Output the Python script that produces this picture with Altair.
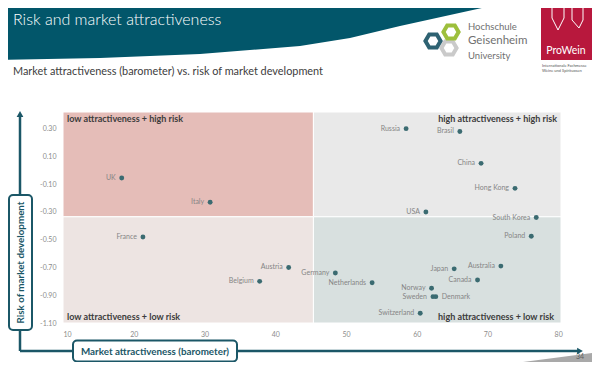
import altair as alt
import pandas as pd

# ---------------- data ----------------
countries = ["Russia", "Brasil", "China", "Hong Kong", "USA", "South Korea", "Poland",
             "Australia", "Japan", "Canada", "Norway", "Sweden", "Denmark", "Switzerland",
             "Germany", "Netherlands", "Austria", "Belgium", "France", "UK", "Italy"]
attractiveness = [58.5, 66.1, 69.1, 73.9, 61.3, 76.9, 76.2,
                  71.9, 65.3, 68.6, 62.1, 62.3, 62.7, 60.5,
                  48.5, 53.7, 41.9, 37.8, 21.3, 18.3, 30.8]
risk = [0.30, 0.28, 0.05, -0.13, -0.30, -0.34, -0.475,
        -0.69, -0.71, -0.79, -0.85, -0.91, -0.91, -1.03,
        -0.74, -0.81, -0.70, -0.80, -0.48, -0.055, -0.23]
label_side = ["left"] * 12 + ["right"] + ["left"] * 8

x_ticks = [10, 20, 30, 40, 50, 60, 70, 80]
y_ticks = [0.3, 0.1, -0.1, -0.3, -0.5, -0.7, -0.9, -1.1]

quad_x1 = [10, 45.4, 10, 45.4]
quad_x2 = [45.4, 80.4, 45.4, 80.4]
quad_y1 = [-0.335, -0.335, -1.1, -1.1]
quad_y2 = [0.42, 0.42, -0.335, -0.335]
quad_colors = ["#e5bdb8", "#e9e9e9", "#ede4e2", "#d8e0df"]

title = "Risk and market attractiveness"
subtitle = "Market attractiveness (barometer) vs. risk of market development"
y_title = "Risk of market development"
x_title = "Market attractiveness (barometer)"
quad_labels = ["low attractiveness + high risk", "high attractiveness + high risk",
               "low attractiveness + low risk", "high attractiveness + low risk"]

banner_x = [0, 100, 200, 300, 350, 400, 450, 500, 520]
banner_y = [60, 58, 54, 46, 38, 26, 15, 4, 0]
wedge_x = [423, 600]
wedge_y = [375, 352]

FONT = "Lato"
TEAL = "#1b5767"
PT = "#3b6b71"

# plot origin in page pixels
OX, OY = 63, 112
def vx(X): return alt.value(X - OX)
def vy(Y): return alt.value(Y - OY)

XS = alt.Scale(domain=[10, 80.4], nice=False, zero=False)
YS = alt.Scale(domain=[-1.1, 0.42], nice=False, zero=False)
PXS = alt.Scale(domain=[0, 600], range=[-OX, 600 - OX])
PYS = alt.Scale(domain=[0, 375], range=[-OY, 375 - OY])

main = pd.DataFrame({"country": countries, "attractiveness": attractiveness,
                     "risk": risk, "side": label_side})
quads = pd.DataFrame({"x1": quad_x1, "x2": quad_x2, "y1": quad_y1, "y2": quad_y2,
                      "c": quad_colors})

xaxis = alt.Axis(values=x_ticks, title=None, domain=False, ticks=False, grid=False,
                 labelFontSize=7, labelColor="#8c8c8c", labelPadding=7, labelFont=FONT,
                 labelOverlap=False)
yaxis = alt.Axis(values=y_ticks, title=None, domain=False, ticks=False, grid=False,
                 labelFontSize=7, labelColor="#8c8c8c", labelPadding=7, labelFont=FONT,
                 labelOverlap=False,
                 labelExpr="replace(format(datum.value, '.2f'), '\u2212', '-')")

quad_layer = alt.Chart(quads).mark_rect(stroke="white", strokeWidth=1).encode(
    x=alt.X("x1:Q", scale=XS, axis=xaxis),
    x2="x2:Q",
    y=alt.Y("y1:Q", scale=YS, axis=yaxis),
    y2="y2:Q",
    fill=alt.Fill("c:N", scale=None),
)

points = alt.Chart(main).mark_circle(size=24, opacity=1, color=PT).encode(
    x=alt.X("attractiveness:Q", scale=XS, axis=None),
    y=alt.Y("risk:Q", scale=YS, axis=None),
)

lab_left = alt.Chart(main).transform_filter("datum.side == 'left'").mark_text(
    align="right", baseline="middle", dx=-6, fontSize=7, color="#858585", font=FONT
).encode(
    x=alt.X("attractiveness:Q", scale=XS, axis=None),
    y=alt.Y("risk:Q", scale=YS, axis=None),
    text="country:N",
)
lab_right = alt.Chart(main).transform_filter("datum.side == 'right'").mark_text(
    align="left", baseline="middle", dx=6, fontSize=7, color="#858585", font=FONT
).encode(
    x=alt.X("attractiveness:Q", scale=XS, axis=None),
    y=alt.Y("risk:Q", scale=YS, axis=None),
    text="country:N",
)

one = pd.DataFrame({"a": [0]})

def txt(s, X, Y, size, color, align="left", weight="normal", angle=0, baseline="middle"):
    kw = dict(align=align, baseline=baseline, fontSize=size, color=color, font=FONT,
              fontWeight=weight)
    if angle:
        kw["angle"] = angle
    return alt.Chart(one).mark_text(**kw).encode(x=vx(X), y=vy(Y), text=alt.value(s))

q_tl = txt(quad_labels[0], 67, 119, 9, "#3c3c3c", weight="bold")
q_tr = txt(quad_labels[1], 557, 119, 9, "#3c3c3c", align="right", weight="bold")
q_bl = txt(quad_labels[2], 67, 317, 9, "#3c3c3c", weight="bold")
q_br = txt(quad_labels[3], 554, 317, 9, "#3c3c3c", align="right", weight="bold")

# banner
banner_df = pd.DataFrame({"x": banner_x, "y": banner_y, "top": [0] * len(banner_x)})
banner = alt.Chart(banner_df).mark_area(color="#02566a", opacity=1).encode(
    x=alt.X("x:Q", scale=PXS, axis=None),
    y=alt.Y("y:Q", scale=PYS, axis=None),
    y2="top:Q",
)
wedge_df = pd.DataFrame({"x": wedge_x, "y": wedge_y, "bot": [375, 375]})
wedge = alt.Chart(wedge_df).mark_area(color="#a9a9a9", opacity=1).encode(
    x=alt.X("x:Q", scale=PXS, axis=None),
    y=alt.Y("y:Q", scale=PYS, axis=None),
    y2="bot:Q",
)

t_title = txt(title, 13, 20, 16, "white", weight=300)
t_sub = txt(subtitle, 13, 72, 10.9, "#404040")
t_page = txt("34", 580, 357, 7, "#5f5f5f", align="center")

# axis decorations
LINE_Y = 351
def rule(x1, y1, x2, y2):
    return alt.Chart(one).mark_rule(color=TEAL, strokeWidth=2.5).encode(
        x=vx(x1), y=vy(y1), x2=vx(x2), y2=vy(y2))

r1 = rule(20, 116, 20, 195)
r2 = rule(20, 330, 20, LINE_Y)
r3 = rule(20, LINE_Y, 73, LINE_Y)
r4 = rule(237, LINE_Y, 578, LINE_Y)
arr_up = alt.Chart(one).mark_point(shape="triangle-up", filled=True, size=45, color=TEAL,
                                   opacity=1).encode(x=vx(20), y=vy(114))
arr_rt = alt.Chart(one).mark_point(shape="triangle-right", filled=True, size=45, color=TEAL,
                                   opacity=1).encode(x=vx(580), y=vy(LINE_Y))

def box(x1, y1, x2, y2):
    return alt.Chart(one).mark_rect(fill="white", stroke=TEAL, strokeWidth=2,
                                    cornerRadius=4).encode(
        x=vx(x1), y=vy(y1), x2=vx(x2), y2=vy(y2))

b_y = box(9, 195, 32, 330)
b_x = box(73, LINE_Y - 10.5, 237, LINE_Y + 10.5)
t_y = txt(y_title, 21, 262.5, 9.8, TEAL, align="center", weight="bold", angle=270)
t_x = txt(x_title, 155, LINE_Y + 1, 9.8, TEAL, align="center", weight="bold")

# logos
HEX = "M -1 0 L -0.5 -0.866 L 0.5 -0.866 L 1 0 L 0.5 0.866 L -0.5 0.866 Z"
def hexa(X, Y, color):
    return alt.Chart(one).mark_point(shape=HEX, filled=False, size=230, strokeWidth=4,
                                     color=color, opacity=1).encode(x=vx(X), y=vy(Y))

h_gray = hexa(449, 48, "#cacaca")
h_green = hexa(451, 32, "#9dbf3c")
h_teal = hexa(433, 41, "#2e6272")
l1 = txt("Hochschule", 468, 27, 9.5, "#707070")
l2 = txt("Geisenheim", 468, 41, 11.5, "#707070")
l3 = txt("University", 468, 55.5, 9.5, "#707070")

pw_rect = alt.Chart(one).mark_rect(fill="#b8183d").encode(
    x=vx(541), y=vy(4), x2=vx(592), y2=vy(60))
pw_text = txt("ProWein", 566, 51, 10.5, "white", align="center")
bottle_df = pd.DataFrame({
    "x": [552, 552, 558, 558, 564, 564, 572, 572, 579, 579, 583, 583],
    "y": [6, 18, 30, 30, 18, 6, 6, 20, 28, 28, 20, 6],
    "g": [0, 0, 0, 1, 1, 1, 2, 2, 2, 3, 3, 3],
})
bottles = alt.Chart(bottle_df).mark_line(color="white", strokeWidth=1).encode(
    x=alt.X("x:Q", scale=PXS, axis=None),
    y=alt.Y("y:Q", scale=PYS, axis=None),
    detail="g:N",
)
pw_s1 = txt("Internationale Fachmesse", 542, 66, 4, "#555555")
pw_s2 = txt("Weine und Spirituosen", 542, 71, 4, "#555555")

chart = alt.layer(
    banner, wedge, quad_layer, points, lab_left, lab_right,
    q_tl, q_tr, q_bl, q_br,
    t_title, t_sub, t_page,
    r1, r2, r3, r4, arr_up, arr_rt, b_y, b_x, t_y, t_x,
    h_gray, h_green, h_teal, l1, l2, l3,
    pw_rect, pw_text, bottles, pw_s1, pw_s2,
).resolve_scale(x="independent", y="independent").properties(
    width=498, height=211,
    padding={"left": 55, "top": 104, "right": 31, "bottom": 39},
    autosize=alt.AutoSizeParams(type="none"),
    background="white",
).configure_view(stroke=None)

chart.save("out.html", embed_options={"renderer": "svg", "actions": False})
